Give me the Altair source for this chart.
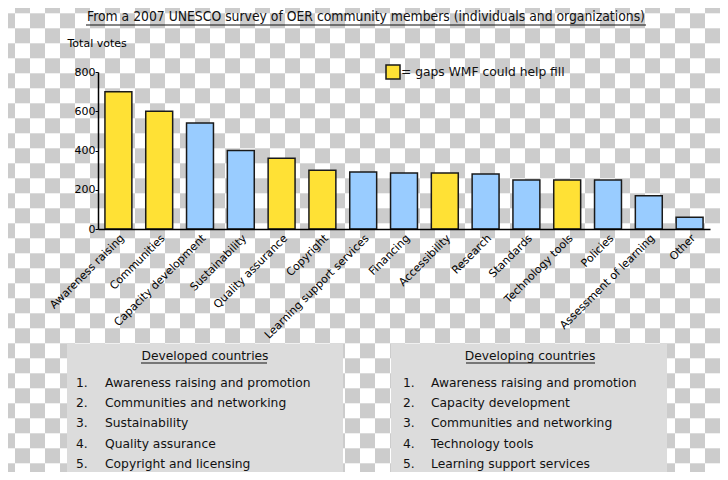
import altair as alt
import pandas as pd

# ---------------- data ----------------
topics = ["Awareness raising", "Communities", "Capacity development", "Sustainability",
          "Quality assurance", "Copyright", "Learning support services", "Financing",
          "Accessibility", "Research", "Standards", "Technology tools", "Policies",
          "Assessment of learning", "Other"]
votes = [700, 600, 540, 400, 360, 300, 290, 285, 285, 280, 250, 250, 250, 170, 60]
is_gap = [True, True, False, False, True, True, False, False, True, False, False, True,
          False, False, False]

developed = ["Awareness raising and promotion", "Communities and networking",
             "Sustainability", "Quality assurance", "Copyright and licensing"]
developing = ["Awareness raising and promotion", "Capacity development",
              "Communities and networking", "Technology tools", "Learning support services"]

title_text = "From a 2007 UNESCO survey of OER community members (individuals and organizations)"
legend_text = "= gaps WMF could help fill"
y_title = "Total votes"
y_ticks = [0, 200, 400, 600, 800]

# ---------------- style ----------------
FONT = "DejaVu Sans"
TITLE_FONT = "DejaVu Sans Condensed, Liberation Sans Narrow, DejaVu Sans"
YELLOW = "#FFE135"
BLUE = "#99CCFF"
CHECK = "#CCCCCC"
BOX = "#DCDCDC"
INK = "#111111"

W, H = 612, 157      # plot area
OX, OY = 98, 72      # page position of plot origin
SQ = 15              # checkerboard square

bar_df = pd.DataFrame({"topic": topics, "votes": votes,
                       "kind": ["gap" if g else "other" for g in is_gap]})

# checkerboard background (transparency pattern of the original)
ncol, nrow = 49, 33
checker = alt.Chart(alt.sequence(0, ncol * nrow, as_="k")).transform_calculate(
    col=f"datum.k % {ncol}", row=f"floor(datum.k / {ncol})"
).transform_filter(
    "(datum.col + datum.row) % 2 == 1"
).transform_calculate(
    x0=f"datum.col * {SQ} - {OX}", x1=f"datum.col * {SQ} - {OX} + {SQ}",
    y0=f"datum.row * {SQ} - 1.7 - {OY}", y1=f"datum.row * {SQ} - 1.7 - {OY} + {SQ}"
).mark_rect(color=CHECK).encode(
    x=alt.X("x0:Q", scale=None), x2="x1:Q",
    y=alt.Y("y0:Q", scale=None), y2="y1:Q"
)

# grey panels
box_left = alt.Chart(pd.DataFrame({"a": [0]})).mark_rect(color=BOX).encode(
    x=alt.value(67 - OX), x2=alt.value(343 - OX), y=alt.value(344 - OY), y2=alt.value(420))
box_right = alt.Chart(pd.DataFrame({"a": [0]})).mark_rect(color=BOX).encode(
    x=alt.value(391 - OX), x2=alt.value(667 - OX), y=alt.value(344 - OY), y2=alt.value(420))

# bars
bars = alt.Chart(bar_df).mark_bar(stroke="#1a1a1a", strokeWidth=1.5).encode(
    x=alt.X("topic:N", sort=topics,
            scale=alt.Scale(paddingInner=0.34, paddingOuter=0.17),
            axis=alt.Axis(labelAngle=-45, ticks=False, labelPadding=3, domainColor="black",
                          domainWidth=1.5, labelFont=FONT, labelFontSize=11,
                          labelColor="black", title=None, labelLimit=0, labelOverlap=False,
                          zindex=1)),
    y=alt.Y("votes:Q", scale=alt.Scale(domain=[0, 800], nice=False),
            axis=alt.Axis(values=y_ticks, tickSize=3, tickColor="black", labelPadding=0,
                          domainColor="black", domainWidth=1.5, grid=False,
                          labelFont=FONT, labelFontSize=11, labelColor="black",
                          title=y_title, titleAngle=0, titleAlign="left",
                          titleBaseline="middle", titleX=67 - OX, titleY=43 - OY,
                          titleFont=FONT, titleFontSize=11, titleFontWeight="normal",
                          titleColor="black", zindex=1)),
    color=alt.Color("kind:N", scale=alt.Scale(domain=["gap", "other"], range=[YELLOW, BLUE]),
                    legend=alt.Legend(orient="none", legendX=385 - OX, legendY=64 - OY,
                                      values=["gap"], labelExpr=f"'{legend_text}'",
                                      symbolType="square", symbolSize=196,
                                      symbolStrokeColor="#1a1a1a", symbolStrokeWidth=1.5,
                                      labelFont=FONT, labelFontSize=12.3, labelColor=INK,
                                      labelOffset=0, title=None, padding=0, labelLimit=0))
)

# title with underline
title = alt.Chart(pd.DataFrame({"t": [title_text]})).mark_text(
    font=TITLE_FONT, fontSize=13.8, color=INK, align="center", baseline="middle"
).encode(x=alt.value(366 - OX), y=alt.value(17 - OY), text="t:N")
title_rule = alt.Chart(pd.DataFrame({"a": [0]})).mark_rule(color=INK, strokeWidth=1).encode(
    x=alt.value(86 - OX), x2=alt.value(646 - OX), y=alt.value(25 - OY))


def panel(heading, items, cx, ux0, ux1, numx, textx):
    hd = alt.Chart(pd.DataFrame({"t": [heading]})).mark_text(
        font=FONT, fontSize=12.3, color=INK, align="center", baseline="middle"
    ).encode(x=alt.value(cx - OX), y=alt.value(356 - OY), text="t:N")
    ul = alt.Chart(pd.DataFrame({"a": [0]})).mark_rule(color=INK, strokeWidth=1).encode(
        x=alt.value(ux0 - OX), x2=alt.value(ux1 - OX), y=alt.value(363 - OY))
    df = pd.DataFrame({"rank": list(range(1, len(items) + 1)), "label": items})
    base = alt.Chart(df).transform_calculate(
        yy=f"382.5 - {OY} + (datum.rank - 1) * 20.4", num="datum.rank + '.'")
    nums = base.mark_text(font=FONT, fontSize=12.3, color=INK, align="left",
                          baseline="middle").encode(
        x=alt.value(numx - OX), y=alt.Y("yy:Q", scale=None), text="num:N")
    labs = base.mark_text(font=FONT, fontSize=12.3, color=INK, align="left",
                          baseline="middle").encode(
        x=alt.value(textx - OX), y=alt.Y("yy:Q", scale=None), text="label:N")
    return [hd, ul, nums, labs]


layers = [checker, box_left, box_right, bars, title, title_rule]
layers += panel("Developed countries", developed, 205, 141, 267, 76, 105)
layers += panel("Developing countries", developing, 530, 466, 595, 403, 431)

chart = alt.layer(*layers).resolve_scale(
    x="independent", y="independent", color="independent"
).properties(
    width=W, height=H, autosize="none",
    padding={"left": OX - 8, "top": OY - 8, "right": 712 - (OX - 8) - W,
             "bottom": 464 - (OY - 8) - H},
    background="white"
).configure_view(stroke=None)

chart.save("out.html", embed_options={"renderer": "svg", "actions": False})
